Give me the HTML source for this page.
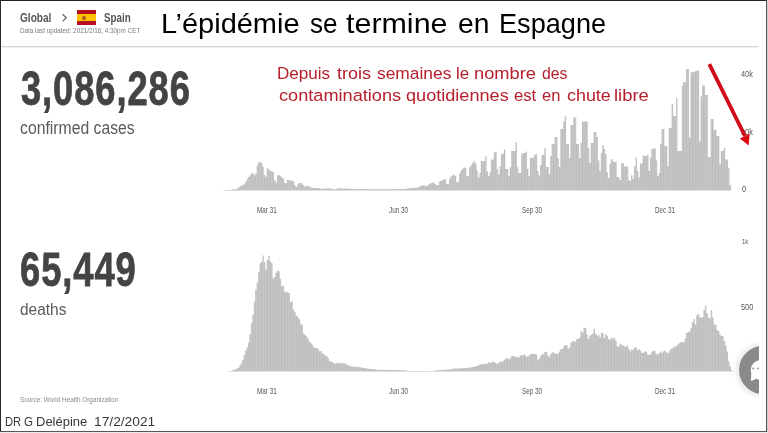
<!DOCTYPE html>
<html><head><meta charset="utf-8"><title>L’épidémie se termine en Espagne</title>
<style>
html,body{margin:0;padding:0;background:#fff;}
body{width:768px;height:433px;overflow:hidden;position:relative;font-family:"Liberation Sans", Arial, sans-serif;}
.abs{position:absolute;}
.t{position:absolute;white-space:nowrap;line-height:1;}
svg.abs{left:0;top:0;}
</style></head><body>
<svg class="abs" width="768" height="433" viewBox="0 0 768 433">
<defs><pattern id="stripe" patternUnits="userSpaceOnUse" x="486.557" y="0" width="2.892" height="433">
<rect width="2.892" height="433" fill="#c5c5c5"/><rect x="0" width="0.7" height="433" fill="#b9b9b9"/></pattern></defs>
<path d="M223.38,190.5 L223.38,190.00 224.83,190.00 224.83,190.00 226.28,190.00 226.28,190.00 227.72,190.00 227.72,190.00 229.17,190.00 229.17,189.97 230.62,189.97 230.61,189.39 232.06,189.39 232.06,189.33 233.51,189.33 233.51,189.27 234.95,189.27 234.95,189.21 236.40,189.21 236.40,188.64 237.84,188.64 237.84,187.67 239.29,187.67 239.29,186.59 240.74,186.59 240.74,185.43 242.18,185.43 242.18,185.07 243.63,185.07 243.63,184.15 245.07,184.15 245.07,182.10 246.52,182.10 246.52,179.37 247.97,179.37 247.97,177.12 249.41,177.12 249.41,175.33 250.86,175.33 250.86,173.54 252.31,173.54 252.30,173.18 253.75,173.18 253.75,175.31 255.20,175.31 255.20,173.75 256.64,173.75 256.64,165.45 258.09,165.45 258.09,162.43 259.54,162.43 259.53,161.65 260.98,161.65 260.98,162.91 262.43,162.91 262.43,166.90 263.87,166.90 263.87,175.10 265.32,175.10 265.32,176.63 266.76,176.63 266.76,168.37 268.21,168.37 268.21,169.18 269.66,169.18 269.66,170.87 271.10,170.87 271.10,171.42 272.55,171.42 272.55,171.89 274.00,171.89 273.99,180.01 275.44,180.01 275.44,182.45 276.89,182.45 276.89,175.46 278.33,175.46 278.33,175.03 279.78,175.03 279.78,175.94 281.22,175.94 281.22,177.68 282.67,177.68 282.67,178.47 284.12,178.47 284.12,183.10 285.56,183.10 285.56,183.31 287.01,183.31 287.01,180.08 288.45,180.08 288.45,180.10 289.90,180.10 289.90,180.48 291.35,180.48 291.35,180.85 292.79,180.85 292.79,181.23 294.24,181.23 294.24,185.29 295.69,185.29 295.69,186.78 297.13,186.78 297.13,184.36 298.58,184.36 298.58,182.99 300.02,182.99 300.02,183.08 301.47,183.08 301.47,183.60 302.92,183.60 302.91,185.14 304.36,185.14 304.36,186.76 305.81,186.76 305.81,186.04 307.25,186.04 307.25,185.80 308.70,185.80 308.70,186.58 310.14,186.58 310.14,187.38 311.59,187.38 311.59,188.00 313.04,188.00 313.04,188.00 314.48,188.00 314.48,188.00 315.93,188.00 315.93,188.00 317.38,188.00 317.37,188.11 318.82,188.11 318.82,188.39 320.27,188.39 320.27,188.66 321.71,188.66 321.71,188.76 323.16,188.76 323.16,188.67 324.60,188.67 324.60,188.58 326.05,188.58 326.05,188.49 327.50,188.49 327.50,188.41 328.94,188.41 328.94,188.32 330.39,188.32 330.39,188.55 331.83,188.55 331.83,188.88 333.28,188.88 333.28,189.20 334.73,189.20 334.73,188.98 336.17,188.98 336.17,188.77 337.62,188.77 337.62,188.55 339.06,188.55 339.06,188.33 340.51,188.33 340.51,188.34 341.96,188.34 341.96,188.38 343.40,188.38 343.40,188.42 344.85,188.42 344.85,188.47 346.30,188.47 346.29,188.53 347.74,188.53 347.74,188.65 349.19,188.65 349.19,188.77 350.63,188.77 350.63,188.89 352.08,188.89 352.08,189.01 353.52,189.01 353.52,189.14 354.97,189.14 354.97,189.17 356.42,189.17 356.42,189.09 357.86,189.09 357.86,189.02 359.31,189.02 359.31,189.02 360.75,189.02 360.75,189.04 362.20,189.04 362.20,189.06 363.65,189.06 363.65,189.08 365.09,189.08 365.09,189.11 366.54,189.11 366.54,189.13 367.98,189.13 367.98,189.15 369.43,189.15 369.43,189.18 370.88,189.18 370.88,189.20 372.32,189.20 372.32,189.21 373.77,189.21 373.77,189.22 375.21,189.22 375.21,189.23 376.66,189.23 376.66,189.25 378.11,189.25 378.11,189.26 379.55,189.26 379.55,189.27 381.00,189.27 381.00,189.28 382.44,189.28 382.44,189.29 383.89,189.29 383.89,189.29 385.34,189.29 385.34,189.26 386.78,189.26 386.78,189.24 388.23,189.24 388.23,189.21 389.68,189.21 389.67,189.18 391.12,189.18 391.12,189.16 392.57,189.16 392.57,189.13 394.01,189.13 394.01,189.10 395.46,189.10 395.46,189.09 396.90,189.09 396.90,189.07 398.35,189.07 398.35,189.06 399.80,189.06 399.80,189.04 401.24,189.04 401.24,189.03 402.69,189.03 402.69,189.02 404.13,189.02 404.13,189.00 405.58,189.00 405.58,188.74 407.03,188.74 407.03,188.45 408.47,188.45 408.47,188.16 409.92,188.16 409.92,187.98 411.37,187.98 411.36,187.94 412.81,187.94 412.81,187.90 414.26,187.90 414.26,187.86 415.70,187.86 415.70,187.82 417.15,187.82 417.15,187.45 418.59,187.45 418.59,186.84 420.04,186.84 420.04,186.12 421.49,186.12 421.49,185.40 422.93,185.40 422.93,185.23 424.38,185.23 424.38,185.75 425.82,185.75 425.82,186.00 427.27,186.00 427.27,185.33 428.72,185.33 428.72,183.94 430.16,183.94 430.16,183.18 431.61,183.18 431.61,182.82 433.06,182.82 433.05,182.46 434.50,182.46 434.50,183.88 435.95,183.88 435.95,185.30 437.39,185.30 437.39,185.01 438.84,185.01 438.84,181.40 440.28,181.40 440.28,180.72 441.73,180.72 441.73,180.12 443.18,180.12 443.18,179.50 444.62,179.50 444.62,178.95 446.07,178.95 446.07,183.67 447.51,183.67 447.51,184.16 448.96,184.16 448.96,179.03 450.41,179.03 450.41,176.52 451.85,176.52 451.85,175.47 453.30,175.47 453.30,174.52 454.75,174.52 454.74,176.06 456.19,176.06 456.19,182.44 457.64,182.44 457.64,181.65 459.08,181.65 459.08,173.41 460.53,173.41 460.53,170.70 461.97,170.70 461.97,168.84 463.42,168.84 463.42,167.51 464.87,167.51 464.87,167.66 466.31,167.66 466.31,175.73 467.76,175.73 467.76,175.93 469.20,175.93 469.20,167.08 470.65,167.08 470.65,165.07 472.10,165.07 472.10,163.05 473.54,163.05 473.54,161.03 474.99,161.03 474.99,163.46 476.44,163.46 476.43,170.50 477.88,170.50 477.88,177.40 479.33,177.40 479.33,173.00 480.77,173.00 480.77,161.00 482.22,161.00 482.22,161.00 483.66,161.00 483.66,161.00 485.11,161.00 485.11,156.60 486.56,156.60 486.56,171.60 488.00,171.60 488.00,176.00 489.45,176.00 489.45,172.40 490.89,172.40 490.89,159.50 492.34,159.50 492.34,159.50 493.79,159.50 493.79,152.30 495.23,152.30 495.23,152.30 496.68,152.30 496.68,169.00 498.12,169.00 498.12,174.50 499.57,174.50 499.57,166.00 501.02,166.00 501.02,153.70 502.46,153.70 502.46,153.70 503.91,153.70 503.91,149.40 505.35,149.40 505.35,169.00 506.80,169.00 506.80,169.00 508.25,169.00 508.25,176.00 509.69,176.00 509.69,167.30 511.14,167.30 511.14,151.00 512.58,151.00 512.59,151.00 514.03,151.00 514.03,151.00 515.48,151.00 515.48,142.30 516.92,142.30 516.92,167.30 518.37,167.30 518.37,173.00 519.81,173.00 519.82,173.00 521.26,173.00 521.26,153.70 522.71,153.70 522.71,153.00 524.15,153.00 524.15,153.00 525.60,153.00 525.60,151.60 527.04,151.60 527.05,169.00 528.49,169.00 528.49,176.00 529.94,176.00 529.94,158.00 531.38,158.00 531.38,158.00 532.83,158.00 532.83,157.30 534.27,157.30 534.27,154.50 535.72,154.50 535.72,154.50 537.17,154.50 537.17,171.00 538.61,171.00 538.61,175.50 540.06,175.50 540.06,165.00 541.50,165.00 541.50,155.00 542.95,155.00 542.95,155.00 544.40,155.00 544.40,148.00 545.84,148.00 545.84,167.00 547.29,167.00 547.29,167.00 548.73,167.00 548.74,174.00 550.18,174.00 550.18,156.00 551.63,156.00 551.63,144.00 553.07,144.00 553.07,144.00 554.52,144.00 554.52,137.00 555.96,137.00 555.97,137.00 557.41,137.00 557.41,158.00 558.86,158.00 558.86,167.00 560.30,167.00 560.30,129.00 561.75,129.00 561.75,129.00 563.19,129.00 563.20,121.40 564.64,121.40 564.64,116.60 566.09,116.60 566.09,144.00 567.53,144.00 567.53,144.00 568.98,144.00 568.98,158.00 570.42,158.00 570.42,125.00 571.87,125.00 571.87,125.00 573.32,125.00 573.32,117.50 574.76,117.50 574.76,117.50 576.21,117.50 576.21,144.00 577.65,144.00 577.65,144.00 579.10,144.00 579.10,158.00 580.55,158.00 580.55,143.00 581.99,143.00 581.99,121.50 583.44,121.50 583.44,121.50 584.88,121.50 584.88,121.50 586.33,121.50 586.33,121.50 587.78,121.50 587.78,148.00 589.22,148.00 589.22,163.00 590.67,163.00 590.67,143.00 592.11,143.00 592.12,143.00 593.56,143.00 593.56,132.00 595.01,132.00 595.01,132.00 596.45,132.00 596.45,137.00 597.90,137.00 597.90,160.50 599.34,160.50 599.35,171.00 600.79,171.00 600.79,153.00 602.24,153.00 602.24,145.00 603.68,145.00 603.68,149.00 605.13,149.00 605.13,154.00 606.57,154.00 606.58,172.30 608.02,172.30 608.02,178.00 609.47,178.00 609.47,163.50 610.91,163.50 610.91,159.00 612.36,159.00 612.36,161.20 613.80,161.20 613.81,162.00 615.25,162.00 615.25,162.00 616.70,162.00 616.70,177.00 618.14,177.00 618.14,177.00 619.59,177.00 619.59,180.00 621.03,180.00 621.04,163.50 622.48,163.50 622.48,163.00 623.93,163.00 623.93,166.40 625.37,166.40 625.37,166.40 626.82,166.40 626.82,166.40 628.26,166.40 628.26,180.00 629.71,180.00 629.71,181.00 631.16,181.00 631.16,175.30 632.60,175.30 632.60,179.00 634.05,179.00 634.05,166.40 635.49,166.40 635.50,157.50 636.94,157.50 636.94,171.00 638.39,171.00 638.39,177.50 639.83,177.50 639.83,163.50 641.28,163.50 641.28,163.50 642.72,163.50 642.73,155.30 644.17,155.30 644.17,156.00 645.62,156.00 645.62,156.00 647.06,156.00 647.06,154.60 648.51,154.60 648.51,171.00 649.95,171.00 649.96,157.50 651.40,157.50 651.40,148.70 652.85,148.70 652.85,148.70 654.29,148.70 654.29,148.20 655.74,148.20 655.74,160.50 657.18,160.50 657.18,176.00 658.63,176.00 658.63,173.00 660.08,173.00 660.08,144.00 661.52,144.00 661.52,129.00 662.97,129.00 662.97,129.00 664.41,129.00 664.41,146.00 665.86,146.00 665.86,146.00 667.31,146.00 667.31,166.00 668.75,166.00 668.75,128.00 670.20,128.00 670.20,128.00 671.64,128.00 671.64,104.00 673.09,104.00 673.09,116.00 674.54,116.00 674.54,116.00 675.98,116.00 675.98,98.00 677.43,98.00 677.43,151.00 678.87,151.00 678.88,151.00 680.32,151.00 680.32,151.00 681.77,151.00 681.77,85.50 683.21,85.50 683.21,82.00 684.66,82.00 684.66,82.00 686.10,82.00 686.11,69.00 687.55,69.00 687.55,69.00 689.00,69.00 689.00,137.40 690.44,137.40 690.44,72.20 691.89,72.20 691.89,72.20 693.33,72.20 693.34,71.40 694.78,71.40 694.78,71.40 696.23,71.40 696.23,70.60 697.67,70.60 697.67,70.60 699.12,70.60 699.12,141.50 700.56,141.50 700.57,96.50 702.01,96.50 702.01,85.50 703.46,85.50 703.46,85.50 704.90,85.50 704.90,95.00 706.35,95.00 706.35,95.00 707.79,95.00 707.80,157.00 709.24,157.00 709.24,157.00 710.69,157.00 710.69,119.00 712.13,119.00 712.13,119.00 713.58,119.00 713.58,129.70 715.02,129.70 715.02,129.70 716.47,129.70 716.47,136.00 717.92,136.00 717.92,136.00 719.36,136.00 719.36,164.00 720.81,164.00 720.81,151.00 722.25,151.00 722.25,151.00 723.70,151.00 723.70,148.00 725.15,148.00 725.15,159.40 726.59,159.40 726.59,159.40 728.04,159.40 728.04,168.00 729.48,168.00 729.49,185.00 730.93,185.00 730.93,190.50 732.38,190.50 732.38,190.50 733.82,190.50 733.82,190.5 Z" fill="url(#stripe)"/>
<path d="M223.38,371.6 L223.38,371.60 224.83,371.60 224.83,371.60 226.28,371.60 226.28,371.40 227.72,371.40 227.72,371.17 229.17,371.17 229.17,371.08 230.62,371.08 230.61,371.03 232.06,371.03 232.06,370.19 233.51,370.19 233.51,369.81 234.95,369.81 234.95,369.43 236.40,369.43 236.40,368.56 237.84,368.56 237.84,367.65 239.29,367.65 239.29,365.58 240.74,365.58 240.74,363.13 242.18,363.13 242.18,360.01 243.63,360.01 243.63,354.97 245.07,354.97 245.07,350.40 246.52,350.40 246.52,347.54 247.97,347.54 247.97,342.52 249.41,342.52 249.41,334.25 250.86,334.25 250.86,323.24 252.31,323.24 252.30,314.85 253.75,314.85 253.75,301.67 255.20,301.67 255.20,289.81 256.64,289.81 256.64,282.86 258.09,282.86 258.09,272.26 259.54,272.26 259.53,263.29 260.98,263.29 260.98,261.92 262.43,261.92 262.43,255.51 263.87,255.51 263.87,262.17 265.32,262.17 265.32,269.82 266.76,269.82 266.76,260.04 268.21,260.04 268.21,255.99 269.66,255.99 269.66,261.53 271.10,261.53 271.10,262.95 272.55,262.95 272.55,278.45 274.00,278.45 273.99,276.96 275.44,276.96 275.44,272.64 276.89,272.64 276.89,270.42 278.33,270.42 278.33,271.23 279.78,271.23 279.78,278.72 281.22,278.72 281.22,286.13 282.67,286.13 282.67,285.73 284.12,285.73 284.12,292.17 285.56,292.17 285.56,291.62 287.01,291.62 287.01,292.87 288.45,292.87 288.45,292.93 289.90,292.93 289.90,301.90 291.35,301.90 291.35,301.20 292.79,301.20 292.79,309.77 294.24,309.77 294.24,311.94 295.69,311.94 295.69,315.39 297.13,315.39 297.13,316.93 298.58,316.93 298.58,318.93 300.02,318.93 300.02,323.68 301.47,323.68 301.47,325.04 302.92,325.04 302.91,333.46 304.36,333.46 304.36,334.96 305.81,334.96 305.81,336.26 307.25,336.26 307.25,338.56 308.70,338.56 308.70,341.27 310.14,341.27 310.14,342.99 311.59,342.99 311.59,344.50 313.04,344.50 313.04,347.07 314.48,347.07 314.48,347.88 315.93,347.88 315.93,347.93 317.38,347.93 317.37,348.70 318.82,348.70 318.82,350.88 320.27,350.88 320.27,351.11 321.71,351.11 321.71,353.23 323.16,353.23 323.16,354.02 324.60,354.02 324.60,355.73 326.05,355.73 326.05,356.11 327.50,356.11 327.50,358.30 328.94,358.30 328.94,361.04 330.39,361.04 330.39,361.80 331.83,361.80 331.83,361.95 333.28,361.95 333.28,363.51 334.73,363.51 334.73,363.53 336.17,363.53 336.17,363.16 337.62,363.16 337.62,362.17 339.06,362.17 339.06,363.38 340.51,363.38 340.51,363.36 341.96,363.36 341.96,362.65 343.40,362.65 343.40,363.70 344.85,363.70 344.85,363.37 346.30,363.37 346.29,365.14 347.74,365.14 347.74,365.20 349.19,365.20 349.19,365.84 350.63,365.84 350.63,366.49 352.08,366.49 352.08,366.66 353.52,366.66 353.52,366.73 354.97,366.73 354.97,366.80 356.42,366.80 356.42,366.87 357.86,366.87 357.86,367.03 359.31,367.03 359.31,367.28 360.75,367.28 360.75,367.53 362.20,367.53 362.20,367.77 363.65,367.77 363.65,368.01 365.09,368.01 365.09,368.26 366.54,368.26 366.54,368.50 367.98,368.50 367.98,368.74 369.43,368.74 369.43,368.89 370.88,368.89 370.88,369.04 372.32,369.04 372.32,369.19 373.77,369.19 373.77,369.34 375.21,369.34 375.21,369.49 376.66,369.49 376.66,369.64 378.11,369.64 378.11,369.73 379.55,369.73 379.55,369.77 381.00,369.77 381.00,369.82 382.44,369.82 382.44,369.86 383.89,369.86 383.89,369.91 385.34,369.91 385.34,369.95 386.78,369.95 386.78,370.00 388.23,370.00 388.23,370.00 389.68,370.00 389.67,370.00 391.12,370.00 391.12,370.00 392.57,370.00 392.57,370.00 394.01,370.00 394.01,370.00 395.46,370.00 395.46,370.00 396.90,370.00 396.90,370.03 398.35,370.03 398.35,370.09 399.80,370.09 399.80,370.14 401.24,370.14 401.24,370.20 402.69,370.20 402.69,370.26 404.13,370.26 404.13,370.32 405.58,370.32 405.58,370.38 407.03,370.38 407.03,371.03 408.47,371.03 408.47,371.09 409.92,371.09 409.92,371.10 411.37,371.10 411.36,371.10 412.81,371.10 412.81,371.10 414.26,371.10 414.26,371.10 415.70,371.10 415.70,371.10 417.15,371.10 417.15,371.10 418.59,371.10 418.59,371.10 420.04,371.10 420.04,371.10 421.49,371.10 421.49,371.10 422.93,371.10 422.93,371.10 424.38,371.10 424.38,371.10 425.82,371.10 425.82,371.10 427.27,371.10 427.27,371.10 428.72,371.10 428.72,371.10 430.16,371.10 430.16,371.10 431.61,371.10 431.61,371.10 433.06,371.10 433.05,371.05 434.50,371.05 434.50,370.36 435.95,370.36 435.95,370.27 437.39,370.27 437.39,370.18 438.84,370.18 438.84,370.09 440.28,370.09 440.28,370.00 441.73,370.00 441.73,369.91 443.18,369.91 443.18,369.82 444.62,369.82 444.62,369.73 446.07,369.73 446.07,369.64 447.51,369.64 447.51,369.55 448.96,369.55 448.96,369.46 450.41,369.46 450.41,369.23 451.85,369.23 451.85,368.77 453.30,368.77 453.30,368.40 454.75,368.40 454.74,368.40 456.19,368.40 456.19,368.40 457.64,368.40 457.64,368.40 459.08,368.40 459.08,368.40 460.53,368.40 460.53,368.32 461.97,368.32 461.97,368.23 463.42,368.23 463.42,368.13 464.87,368.13 464.87,368.04 466.31,368.04 466.31,367.88 467.76,367.88 467.76,367.67 469.20,367.67 469.20,367.46 470.65,367.46 470.65,367.24 472.10,367.24 472.10,367.02 473.54,367.02 473.54,366.80 474.99,366.80 474.99,366.55 476.44,366.55 476.43,365.96 477.88,365.96 477.88,365.36 479.33,365.36 479.33,364.48 480.77,364.48 480.77,364.01 482.22,364.01 482.22,364.43 483.66,364.43 483.66,363.79 485.11,363.79 485.11,363.45 486.56,363.45 486.56,364.10 488.00,364.10 488.00,361.97 489.45,361.97 489.45,363.33 490.89,363.33 490.89,362.20 492.34,362.20 492.34,361.32 493.79,361.32 493.79,362.16 495.23,362.16 495.23,362.98 496.68,362.98 496.68,364.06 498.12,364.06 498.12,362.58 499.57,362.58 499.57,361.30 501.02,361.30 501.02,362.10 502.46,362.10 502.46,360.66 503.91,360.66 503.91,359.49 505.35,359.49 505.35,358.72 506.80,358.72 506.80,358.01 508.25,358.01 508.25,359.40 509.69,359.40 509.69,357.96 511.14,357.96 511.14,355.93 512.58,355.93 512.59,355.66 514.03,355.66 514.03,356.86 515.48,356.86 515.48,357.19 516.92,357.19 516.92,356.77 518.37,356.77 518.37,357.57 519.81,357.57 519.82,355.20 521.26,355.20 521.26,355.50 522.71,355.50 522.71,355.29 524.15,355.29 524.15,354.51 525.60,354.51 525.60,356.79 527.04,356.79 527.05,356.57 528.49,356.57 528.49,355.34 529.94,355.34 529.94,354.19 531.38,354.19 531.38,353.39 532.83,353.39 532.83,354.02 534.27,354.02 534.27,354.03 535.72,354.03 535.72,354.39 537.17,354.39 537.17,359.89 538.61,359.89 538.61,358.79 540.06,358.79 540.06,355.98 541.50,355.98 541.50,353.97 542.95,353.97 542.95,354.16 544.40,354.16 544.40,352.06 545.84,352.06 545.84,351.77 547.29,351.77 547.29,355.42 548.73,355.42 548.74,357.16 550.18,357.16 550.18,354.08 551.63,354.08 551.63,352.25 553.07,352.25 553.07,352.77 554.52,352.77 554.52,353.54 555.96,353.54 555.97,353.72 557.41,353.72 557.41,353.84 558.86,353.84 558.86,351.43 560.30,351.43 560.30,348.89 561.75,348.89 561.75,348.92 563.19,348.92 563.20,346.42 564.64,346.42 564.64,345.15 566.09,345.15 566.09,345.04 567.53,345.04 567.53,348.67 568.98,348.67 568.98,347.31 570.42,347.31 570.42,342.49 571.87,342.49 571.87,341.35 573.32,341.35 573.32,341.28 574.76,341.28 574.76,341.75 576.21,341.75 576.21,338.89 577.65,338.89 577.65,338.66 579.10,338.66 579.10,337.47 580.55,337.47 580.55,330.70 581.99,330.70 581.99,332.86 583.44,332.86 583.44,327.40 584.88,327.40 584.88,328.05 586.33,328.05 586.33,334.32 587.78,334.32 587.78,338.88 589.22,338.88 589.22,335.78 590.67,335.78 590.67,334.59 592.11,334.59 592.12,333.79 593.56,333.79 593.56,328.80 595.01,328.80 595.01,333.44 596.45,333.44 596.45,335.43 597.90,335.43 597.90,334.83 599.34,334.83 599.35,337.20 600.79,337.20 600.79,332.53 602.24,332.53 602.24,333.33 603.68,333.33 603.68,338.02 605.13,338.02 605.13,334.34 606.57,334.34 606.58,335.68 608.02,335.68 608.02,339.01 609.47,339.01 609.47,339.74 610.91,339.74 610.91,337.52 612.36,337.52 612.36,338.77 613.80,338.77 613.81,337.65 615.25,337.65 615.25,340.95 616.70,340.95 616.70,346.08 618.14,346.08 618.14,346.76 619.59,346.76 619.59,343.83 621.03,343.83 621.04,344.43 622.48,344.43 622.48,345.76 623.93,345.76 623.93,346.29 625.37,346.29 625.37,347.02 626.82,347.02 626.82,345.24 628.26,345.24 628.26,349.26 629.71,349.26 629.71,351.30 631.16,351.30 631.16,349.26 632.60,349.26 632.60,350.01 634.05,350.01 634.05,347.31 635.49,347.31 635.50,347.75 636.94,347.75 636.94,350.35 638.39,350.35 638.39,349.01 639.83,349.01 639.83,350.80 641.28,350.80 641.28,352.65 642.72,352.65 642.73,352.92 644.17,352.92 644.17,351.18 645.62,351.18 645.62,351.76 647.06,351.76 647.06,354.43 648.51,354.43 648.51,355.04 649.95,355.04 649.96,353.73 651.40,353.73 651.40,351.73 652.85,351.73 652.85,350.42 654.29,350.42 654.29,351.25 655.74,351.25 655.74,354.37 657.18,354.37 657.18,354.26 658.63,354.26 658.63,353.00 660.08,353.00 660.08,351.68 661.52,351.68 661.52,352.71 662.97,352.71 662.97,351.19 664.41,351.19 664.41,350.48 665.86,350.48 665.86,352.47 667.31,352.47 667.31,353.37 668.75,353.37 668.75,351.23 670.20,351.23 670.20,348.82 671.64,348.82 671.64,348.50 673.09,348.50 673.09,346.67 674.54,346.67 674.54,346.63 675.98,346.63 675.98,346.07 677.43,346.07 677.43,344.15 678.87,344.15 678.88,343.04 680.32,343.04 680.32,341.97 681.77,341.97 681.77,341.89 683.21,341.89 683.21,342.27 684.66,342.27 684.66,338.85 686.10,338.85 686.11,332.94 687.55,332.94 687.55,331.89 689.00,331.89 689.00,331.54 690.44,331.54 690.44,327.97 691.89,327.97 691.89,322.40 693.33,322.40 693.34,318.89 694.78,318.89 694.78,324.42 696.23,324.42 696.23,315.59 697.67,315.59 697.67,313.87 699.12,313.87 699.12,316.98 700.56,316.98 700.57,317.97 702.01,317.97 702.01,316.98 703.46,316.98 703.46,309.76 704.90,309.76 704.90,305.56 706.35,305.56 706.35,313.31 707.79,313.31 707.80,317.42 709.24,317.42 709.24,318.24 710.69,318.24 710.69,310.16 712.13,310.16 712.13,317.44 713.58,317.44 713.58,324.41 715.02,324.41 715.02,324.65 716.47,324.65 716.47,329.95 717.92,329.95 717.92,331.00 719.36,331.00 719.36,334.31 720.81,334.31 720.81,336.05 722.25,336.05 722.25,336.07 723.70,336.07 723.70,341.00 725.15,341.00 725.15,345.58 726.59,345.58 726.59,351.44 728.04,351.44 728.04,360.88 729.48,360.88 729.49,366.58 730.93,366.58 730.93,370.34 732.38,370.34 732.38,371.30 733.82,371.30 733.82,371.6 Z" fill="url(#stripe)"/>
</svg>
<div class="abs" style="left:0;top:0;width:759px;height:433px;overflow:hidden">
<div class="abs" style="left:733px;top:339.5px;width:60px;height:60px;border-radius:50%;background:radial-gradient(circle, rgba(0,0,0,.06) 0 60%, rgba(0,0,0,0) 72%);"></div>
<div class="abs" style="left:739px;top:345.5px;width:48.6px;height:48.6px;border-radius:50%;background:#8a8a8a"></div>
<svg class="abs" width="768" height="433" viewBox="0 0 768 433">
<circle cx="760.5" cy="370" r="9.8" fill="#fff"/>
<polygon points="751.5,373 756,379 750.8,381" fill="#fff"/>
<circle cx="753.2" cy="368.4" r="1" fill="#999"/><circle cx="757.8" cy="368.4" r="1" fill="#999"/>
</svg></div>
<div class="abs" style="left:77.2px;top:9.7px;width:18.9px;height:15.7px;background:linear-gradient(#b50f1f 0 26%,#fbc200 26% 76%,#b50f1f 76%);"></div>
<div class="abs" style="left:82px;top:15.5px;width:4px;height:4.6px;border-radius:45%;background:#b0581c;"></div>
<svg class="abs" width="768" height="433" viewBox="0 0 768 433"><polyline points="62.6,14.2 66.2,17.8 62.6,21.4" fill="none" stroke="#666" stroke-width="1.3"/></svg>
<div id="global" class="t" style="left:20.20px;top:12.04px;font-size:12px;color:#555;font-weight:bold;transform:scaleX(0.84);transform-origin:0 0;">Global</div><div id="spain" class="t" style="left:104.30px;top:12.24px;font-size:12px;color:#555;font-weight:bold;transform:scaleX(0.82);transform-origin:0 0;">Spain</div><div id="upd" class="t" style="left:20.00px;top:27.04px;font-size:7.4px;color:#7a7a7a;font-weight:normal;transform:scaleX(0.856);transform-origin:0 0;">Data last updated: 2021/2/16, 4:30pm CET</div><div id="n1" class="t" style="left:20.60px;top:64.33px;font-size:48.4px;color:#444;font-weight:bold;transform:scaleX(0.751);transform-origin:0 0;-webkit-text-stroke:0.8px #444;letter-spacing:1.2px;">3,086,286</div><div id="l1" class="t" style="left:20.40px;top:119.89px;font-size:17.5px;color:#5a5a5a;font-weight:normal;transform:scaleX(0.9);transform-origin:0 0;">confirmed cases</div><div id="n2" class="t" style="left:20.00px;top:246.38px;font-size:47.4px;color:#444;font-weight:bold;transform:scaleX(0.767);transform-origin:0 0;-webkit-text-stroke:0.8px #444;letter-spacing:1.2px;">65,449</div><div id="l2" class="t" style="left:20.40px;top:300.86px;font-size:17.3px;color:#5a5a5a;font-weight:normal;transform:scaleX(0.895);transform-origin:0 0;">deaths</div><div id="src" class="t" style="left:20.20px;top:395.52px;font-size:7.3px;color:#8a8a8a;font-weight:normal;transform:scaleX(0.874);transform-origin:0 0;">Source: World Health Organization</div><div id="tw0" class="t" style="left:160.82px;top:9.50px;font-size:28px;color:#000;font-weight:normal;transform:scaleX(1.0351);transform-origin:0 0;">L’épidémie</div><div id="tw1" class="t" style="left:309.54px;top:9.50px;font-size:28px;color:#000;font-weight:normal;transform:scaleX(0.9296);transform-origin:0 0;">se</div><div id="tw2" class="t" style="left:346.46px;top:9.50px;font-size:28px;color:#000;font-weight:normal;transform:scaleX(1.087);transform-origin:0 0;">termine</div><div id="tw3" class="t" style="left:458.09px;top:9.50px;font-size:28px;color:#000;font-weight:normal;transform:scaleX(1.0078);transform-origin:0 0;">en</div><div id="tw4" class="t" style="left:499.37px;top:9.50px;font-size:28px;color:#000;font-weight:normal;transform:scaleX(0.9683);transform-origin:0 0;">Espagne</div><div id="r10" class="t" style="left:277.20px;top:66.18px;font-size:16.8px;color:#b5202c;font-weight:normal;transform:scaleX(1.016);transform-origin:0 0;">Depuis</div><div id="r11" class="t" style="left:337.23px;top:66.18px;font-size:16.8px;color:#b5202c;font-weight:normal;transform:scaleX(1.0748);transform-origin:0 0;">trois</div><div id="r12" class="t" style="left:376.72px;top:66.18px;font-size:16.8px;color:#b5202c;font-weight:normal;transform:scaleX(1.0353);transform-origin:0 0;">semaines</div><div id="r13" class="t" style="left:455.72px;top:66.18px;font-size:16.8px;color:#b5202c;font-weight:normal;transform:scaleX(1.014);transform-origin:0 0;">le</div><div id="r14" class="t" style="left:473.91px;top:66.18px;font-size:16.8px;color:#b5202c;font-weight:normal;transform:scaleX(1.0875);transform-origin:0 0;">nombre</div><div id="r15" class="t" style="left:542.00px;top:66.18px;font-size:16.8px;color:#b5202c;font-weight:normal;transform:scaleX(0.9416);transform-origin:0 0;">des</div><div id="r20" class="t" style="left:279.29px;top:87.78px;font-size:16.8px;color:#b5202c;font-weight:normal;transform:scaleX(1.0822);transform-origin:0 0;">contaminations</div><div id="r21" class="t" style="left:405.74px;top:87.78px;font-size:16.8px;color:#b5202c;font-weight:normal;transform:scaleX(1.079);transform-origin:0 0;">quotidiennes</div><div id="r22" class="t" style="left:514.30px;top:87.78px;font-size:16.8px;color:#b5202c;font-weight:normal;transform:scaleX(0.9921);transform-origin:0 0;">est</div><div id="r23" class="t" style="left:542.32px;top:87.78px;font-size:16.8px;color:#b5202c;font-weight:normal;transform:scaleX(0.9824);transform-origin:0 0;">en</div><div id="r24" class="t" style="left:566.86px;top:87.78px;font-size:16.8px;color:#b5202c;font-weight:normal;transform:scaleX(1.0656);transform-origin:0 0;">chute</div><div id="r25" class="t" style="left:614.46px;top:87.78px;font-size:16.8px;color:#b5202c;font-weight:normal;transform:scaleX(1.0975);transform-origin:0 0;">libre</div><div id="dw0" class="t" style="left:4.81px;top:414.67px;font-size:13.15px;color:#383838;font-weight:normal;transform:scaleX(0.8524);transform-origin:0 0;">DR</div><div id="dw1" class="t" style="left:24.02px;top:414.67px;font-size:13.15px;color:#383838;font-weight:normal;transform:scaleX(0.8824);transform-origin:0 0;">G</div><div id="dw2" class="t" style="left:36.01px;top:414.67px;font-size:13.15px;color:#383838;font-weight:normal;transform:scaleX(0.9884);transform-origin:0 0;">Delépine</div><div id="dw3" class="t" style="left:94.36px;top:414.67px;font-size:13.15px;color:#383838;font-weight:normal;transform:scaleX(1.0474);transform-origin:0 0;">17/2/2021</div><div id="ax00" class="t" style="left:256.60px;top:205.52px;font-size:8.6px;color:#555;font-weight:normal;transform:scaleX(0.735);transform-origin:0 0;">Mar 31</div><div id="ax01" class="t" style="left:256.60px;top:386.62px;font-size:8.6px;color:#555;font-weight:normal;transform:scaleX(0.735);transform-origin:0 0;">Mar 31</div><div id="ax10" class="t" style="left:388.50px;top:205.52px;font-size:8.6px;color:#555;font-weight:normal;transform:scaleX(0.735);transform-origin:0 0;">Jun 30</div><div id="ax11" class="t" style="left:388.50px;top:386.62px;font-size:8.6px;color:#555;font-weight:normal;transform:scaleX(0.735);transform-origin:0 0;">Jun 30</div><div id="ax20" class="t" style="left:521.90px;top:205.52px;font-size:8.6px;color:#555;font-weight:normal;transform:scaleX(0.735);transform-origin:0 0;">Sep 30</div><div id="ax21" class="t" style="left:521.90px;top:386.62px;font-size:8.6px;color:#555;font-weight:normal;transform:scaleX(0.735);transform-origin:0 0;">Sep 30</div><div id="ax30" class="t" style="left:655.00px;top:205.52px;font-size:8.6px;color:#555;font-weight:normal;transform:scaleX(0.735);transform-origin:0 0;">Dec 31</div><div id="ax31" class="t" style="left:655.00px;top:386.62px;font-size:8.6px;color:#555;font-weight:normal;transform:scaleX(0.735);transform-origin:0 0;">Dec 31</div><div id="y40" class="t" style="left:740.70px;top:70.42px;font-size:8.6px;color:#555;font-weight:normal;transform:scaleX(0.85);transform-origin:0 0;">40k</div><div id="y20" class="t" style="left:740.70px;top:128.12px;font-size:8.6px;color:#555;font-weight:normal;transform:scaleX(0.85);transform-origin:0 0;">20k</div><div id="y0" class="t" style="left:741.60px;top:185.02px;font-size:8.6px;color:#555;font-weight:normal;transform:scaleX(0.85);transform-origin:0 0;">0</div><div id="y1k" class="t" style="left:741.60px;top:238.03px;font-size:8.0px;color:#555;font-weight:normal;transform:scaleX(0.75);transform-origin:0 0;">1k</div><div id="y500" class="t" style="left:741.20px;top:302.72px;font-size:8.6px;color:#555;font-weight:normal;transform:scaleX(0.85);transform-origin:0 0;">500</div>
<svg class="abs" width="768" height="433" viewBox="0 0 768 433">
<line x1="709.3" y1="64.2" x2="745" y2="136" stroke="#d20c16" stroke-width="3.8"/>
<polygon points="739.9,138.6 749.6,133.8 748.7,145.4" fill="#dc0a12"/>
</svg>
<div class="abs" style="left:0;top:0;width:768px;height:1px;background:#222"></div>
<div class="abs" style="left:0;top:0;width:1px;height:433px;background:#2a2a2a"></div>
<div class="abs" style="left:766px;top:0;width:1px;height:433px;background:#555"></div>
<div class="abs" style="left:767px;top:0;width:1px;height:433px;background:#cfcfcf"></div>
<div class="abs" style="left:0;top:431px;width:767px;height:1px;background:#555"></div>
<div class="abs" style="left:0;top:432px;width:768px;height:1px;background:#ececec"></div>
<div class="abs" style="left:1px;top:46px;width:758px;height:1px;background:#d6d6d6"></div>
<div class="abs" style="left:1px;top:47px;width:758px;height:1px;background:#efefef"></div>
</body></html>
